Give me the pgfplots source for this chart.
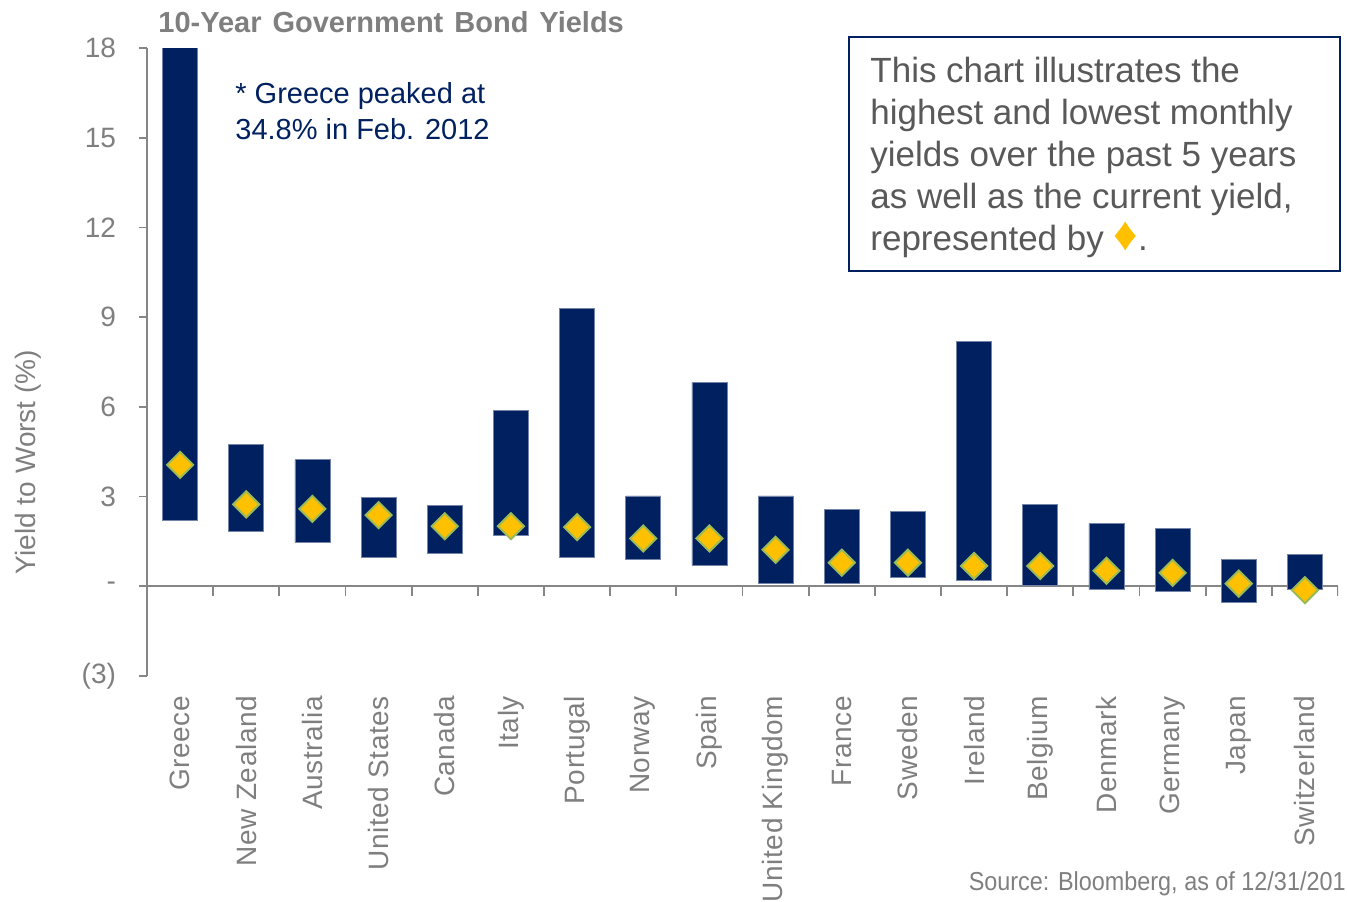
\documentclass[border=0pt]{standalone}
\usepackage{pgfplots}
\pgfplotsset{compat=1.18}
\usepackage{pgfplotstable}
\usepackage{fontspec}
\setmainfont{Liberation Sans}
\usepackage{graphicx}
\definecolor{navy}{HTML}{002060}
\definecolor{gold}{HTML}{FFC000}
\definecolor{dgreen}{HTML}{9BBB59}
\definecolor{axgray}{HTML}{868686}
\definecolor{txtgray}{HTML}{7F7F7F}
\definecolor{notegray}{HTML}{595959}

\pgfplotstableread{
x low range cur
0 2.20 32.60 4.06
1 1.84 2.90 2.74
2 1.47 2.76 2.59
3 0.96 2.02 2.38
4 1.10 1.59 2.01
5 1.69 4.19 2.01
6 0.98 8.30 1.98
7 0.91 2.11 1.60
8 0.69 6.12 1.60
9 0.11 2.91 1.22
10 0.11 2.47 0.79
11 0.31 2.19 0.79
12 0.21 7.99 0.68
13 0.04 2.71 0.68
14 -0.09 2.18 0.52
15 -0.17 2.11 0.45
16 -0.54 1.45 0.09
17 -0.09 1.15 -0.13
}\datatable

\pgfplotsset{
  base/.style={
    at={(73.5pt,-338pt)}, anchor=south west,
    scale only axis, width=595.5pt, height=314pt,
    xmin=-0.5, xmax=17.5, ymin=-3, ymax=18,
  }
}

\begin{document}
\begin{tikzpicture}
\useasboundingbox (0,0) rectangle (673.5pt,-450.5pt);
\begin{axis}[base,
  axis y line*=left, axis x line*=bottom,
  x axis line style={draw=none},
  y axis line style={axgray, line width=0.9pt},
  ytick={-3,0,3,6,9,12,15,18}, yticklabels={(3),-,3,6,9,12,15,18},
  ytick style={axgray, line width=0.9pt},
  tick align=outside, major tick length=4pt,
  xtick={0,...,17},
  xticklabels={Greece,New Zealand,Australia,United States,Canada,Italy,Portugal,Norway,Spain,United Kingdom,France,Sweden,Ireland,Belgium,Denmark,Germany,Japan,Switzerland},
  xtick style={draw=none},
  xticklabel style={yshift=-2.5pt, rotate=90, anchor=east, font=\fontsize{14}{16}\selectfont\addfontfeatures{LetterSpace=2}, text=txtgray},
  yticklabel style={font=\fontsize{14}{16}\selectfont, text=txtgray, xshift=-8pt},
  /pgf/number format/assume math mode=true,
  ybar stacked, stack negative=on previous, bar width=17.5pt,
]
\addplot[draw=none, fill=none] table[x=x,y=low]{\datatable};
\addplot[fill=navy, draw=navy!55!white, line width=0.4pt] table[x=x,y=range]{\datatable};
\draw[axgray, line width=0.9pt] (axis cs:-0.5,0) -- (axis cs:17.5,0);
\pgfplotsinvokeforeach{0.5,1.5,...,17.5}{\draw[axgray, line width=0.9pt] (axis cs:#1,0) -- ([yshift=-5pt]axis cs:#1,0);}
\end{axis}
\begin{axis}[base, hide axis, clip=false]
\addplot[only marks, mark=square*, mark size=4.6pt, mark options={rotate=45, fill=gold, draw=dgreen, line width=1pt}] table[x=x,y=cur]{\datatable};
\end{axis}
% title
\node[anchor=base west, inner sep=0pt, text=txtgray, font=\fontsize{14.5}{16}\selectfont\bfseries] at (79pt,-16pt) {10-Year\hspace{5.5pt}Government\hspace{5.5pt}Bond\hspace{5.5pt}Yields};
% y label
\node[rotate=90, inner sep=0pt, text=txtgray, font=\fontsize{14}{16}\selectfont] at (14pt,-231pt) {Yield to Worst (\%)};
% Greece note
\node[anchor=base west, inner sep=0pt, text=navy, font=\fontsize{14.5}{17}\selectfont] at (117.5pt,-51.5pt) {* Greece peaked at};
\node[anchor=base west, inner sep=0pt, text=navy, font=\fontsize{14.5}{17}\selectfont] at (117.5pt,-69.5pt) {34.8\% in Feb. 2012};
% explanatory box
\draw[navy, line width=1pt] (424.5pt,-18.5pt) rectangle (670pt,-135.5pt);
\begin{scope}[every node/.style={anchor=base west, inner sep=0pt, text=notegray, font=\fontsize{17.5}{21}\selectfont}]
\node at (435pt,-41pt) {This chart illustrates the};
\node at (435pt,-62pt) {highest and lowest monthly};
\node at (435pt,-83pt) {yields over the past 5 years};
\node at (435pt,-104pt) {as well as the current yield,};
\node at (435pt,-125pt) {represented by {\fontsize{24}{21}\selectfont\textcolor{gold}{♦}}.};
\end{scope}
% source
\node[anchor=base east, inner sep=0pt, text=txtgray] at (673pt,-445pt) {\scalebox{0.9}[1]{\fontsize{13}{15}\selectfont Source: Bloomberg, as of 12/31/201}};
\end{tikzpicture}
\end{document}
